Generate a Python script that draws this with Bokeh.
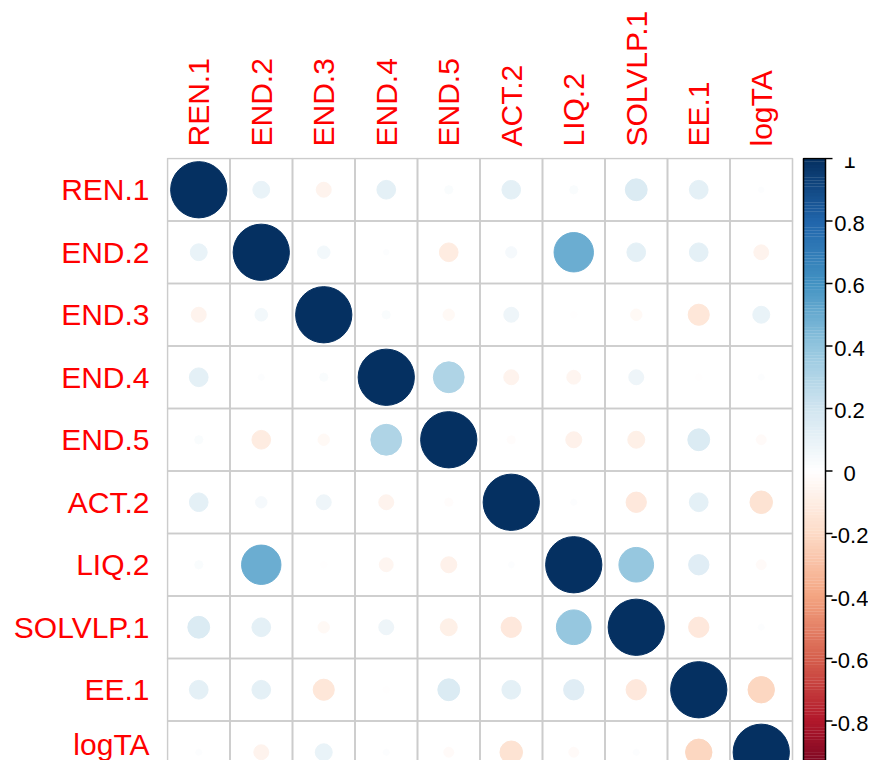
import math
import numpy as np
from bokeh.plotting import figure
from bokeh.models import ColumnDataSource, FixedTicker, Range1d
from bokeh.core.properties import value
from bokeh.embed import file_html
from bokeh.resources import INLINE

# ---------------- data ----------------
variables = ["REN.1", "END.2", "END.3", "END.4", "END.5",
             "ACT.2", "LIQ.2", "SOLVLP.1", "EE.1", "logTA"]

row_REN_1    = [1.00, 0.09, -0.07, 0.11, 0.02, 0.11, 0.02, 0.15, 0.11, 0.01]
row_END_2    = [0.09, 1.00, 0.05, 0.01, -0.11, 0.04, 0.49, 0.11, 0.11, -0.07]
row_END_3    = [-0.07, 0.05, 1.00, 0.02, -0.04, 0.07, -0.01, -0.04, -0.14, 0.09]
row_END_4    = [0.11, 0.01, 0.02, 1.00, 0.30, -0.07, -0.06, 0.07, -0.01, 0.01]
row_END_5    = [0.02, -0.11, -0.04, 0.30, 1.00, -0.02, -0.08, -0.09, 0.15, -0.03]
row_ACT_2    = [0.11, 0.04, 0.07, -0.07, -0.02, 1.00, 0.01, -0.13, 0.11, -0.16]
row_LIQ_2    = [0.02, 0.49, -0.01, -0.06, -0.08, 0.01, 1.00, 0.38, 0.13, -0.03]
row_SOLVLP_1 = [0.15, 0.11, -0.04, 0.07, -0.09, -0.13, 0.38, 1.00, -0.13, 0.01]
row_EE_1     = [0.11, 0.11, -0.14, -0.01, 0.15, 0.11, 0.13, -0.13, 1.00, -0.22]
row_logTA    = [0.01, -0.07, 0.09, 0.01, -0.03, -0.16, -0.03, 0.01, -0.22, 1.00]

rows = [row_REN_1, row_END_2, row_END_3, row_END_4, row_END_5,
        row_ACT_2, row_LIQ_2, row_SOLVLP_1, row_EE_1, row_logTA]

cbar_ticks = [-1.0, -0.8, -0.6, -0.4, -0.2, 0.0, 0.2, 0.4, 0.6, 0.8, 1.0]
cbar_labels = ["-1", "-0.8", "-0.6", "-0.4", "-0.2", "0", "0.2", "0.4", "0.6", "0.8", "1"]

anchor_colors = ["#67001F", "#B2182B", "#D6604D", "#F4A582", "#FDDBC7", "#FFFFFF",
                 "#D1E5F0", "#92C5DE", "#4393C3", "#2166AC", "#053061"]


def ramp(anchors, n):
    rgb = np.array([[int(c[i:i + 2], 16) for i in (1, 3, 5)] for c in anchors], float)
    pos = np.linspace(0, 1, len(anchors))
    out = []
    for t in np.linspace(0, 1, n):
        ch = [np.interp(t, pos, rgb[:, k]) for k in range(3)]
        out.append("#%02x%02x%02x" % tuple(int(round(v)) for v in ch))
    return out


palette = ramp(anchor_colors, 200)


def col_for(v):
    idx = int(math.ceil((v + 1) / 2 * 199))
    return palette[max(0, min(199, idx))]


# ---------------- layout ----------------
CELL = 62.5
W, H = 868, 760
LEFT, TOP = 166, 157
GRID_X0 = 167  # picture x of the grid's left edge
n = len(variables)
x_start = -1.0 / CELL
x_end = x_start + (W - LEFT) / CELL
y_end = n + 1.0 / CELL
y_start = y_end - (H - TOP) / CELL

p = figure(width=W, height=H,
           x_range=Range1d(x_start, x_end), y_range=Range1d(y_start, y_end),
           x_axis_location="above", y_axis_location="left",
           output_backend="svg", toolbar_location=None,
           min_border_left=LEFT, min_border_top=TOP,
           min_border_right=0, min_border_bottom=0)
p.outline_line_color = None
p.grid.visible = False
p.background_fill_color = "white"
p.border_fill_color = "white"

label_font = "Liberation Sans"

xa = p.xaxis[0]
xa.ticker = FixedTicker(ticks=[i + 0.5 for i in range(n)])
xa.major_label_overrides = {i + 0.5: v for i, v in enumerate(variables)}
xa.major_label_orientation = math.pi / 2
ya = p.yaxis[0]
ya.ticker = FixedTicker(ticks=[n - 0.5 - i for i in range(n)])
ya.major_label_overrides = {n - 0.5 - i: v for i, v in enumerate(variables)}
for ax in (xa, ya):
    ax.axis_line_color = None
    ax.major_tick_line_color = None
    ax.minor_tick_line_color = None
    ax.major_tick_out = 0
    ax.major_tick_in = 0
    ax.minor_tick_out = 0
    ax.major_label_text_color = "#FF0000"
    ax.major_label_text_font = label_font
    ax.major_label_text_font_size = "30px"
xa.major_label_standoff = 11
ya.major_label_standoff = 17

# grid cells
cx, cy = [], []
for i in range(n):
    for j in range(n):
        cx.append(j + 0.5)
        cy.append(n - 0.5 - i)
p.rect(x=cx, y=cy, width=1, height=1, fill_color=None,
       line_color="#cccccc", line_width=1.6)

# circles
xs, ys, rs, cs = [], [], [], []
for i, row in enumerate(rows):
    for j, v in enumerate(row):
        xs.append(j + 0.5)
        ys.append(n - 0.5 - i)
        rs.append(0.45 * math.sqrt(abs(v)))
        cs.append(col_for(v))
src = ColumnDataSource(dict(x=xs, y=ys, r=rs, c=cs))
p.circle(x="x", y="y", radius="r", fill_color="c", line_color="c", source=src)

# colour bar
cb_x0 = (803 - GRID_X0) / CELL
cb_x1 = (825 - GRID_X0) / CELL
step = n / len(palette)
p.rect(x=[(cb_x0 + cb_x1) / 2] * len(palette),
       y=[(k + 0.5) * step for k in range(len(palette))],
       width=cb_x1 - cb_x0, height=step * 1.08,
       fill_color=palette, line_color=None)
p.quad(left=[cb_x0], right=[cb_x1], bottom=[0], top=[n],
       fill_color=None, line_color="black", line_width=1.5)
tick_y = [(t + 1) / 2 * n for t in cbar_ticks]
p.segment(x0=[cb_x1] * len(tick_y), y0=tick_y,
          x1=[cb_x1 + 7 / CELL] * len(tick_y), y1=tick_y,
          line_color="black", line_width=1.5)
# only the labels that fall inside the visible part of the bar
vis = [k for k, ty in enumerate(tick_y) if ty - 0.2 >= y_start]
p.text(x=[(849 - GRID_X0) / CELL] * len(vis), y=[tick_y[k] for k in vis],
       text=[cbar_labels[k] for k in vis],
       text_font=value(label_font), text_font_size=value("22px"),
       text_align="center", text_baseline="middle", text_color="black",
       y_offset=2)

open("out.html", "w").write(file_html(p, INLINE))
